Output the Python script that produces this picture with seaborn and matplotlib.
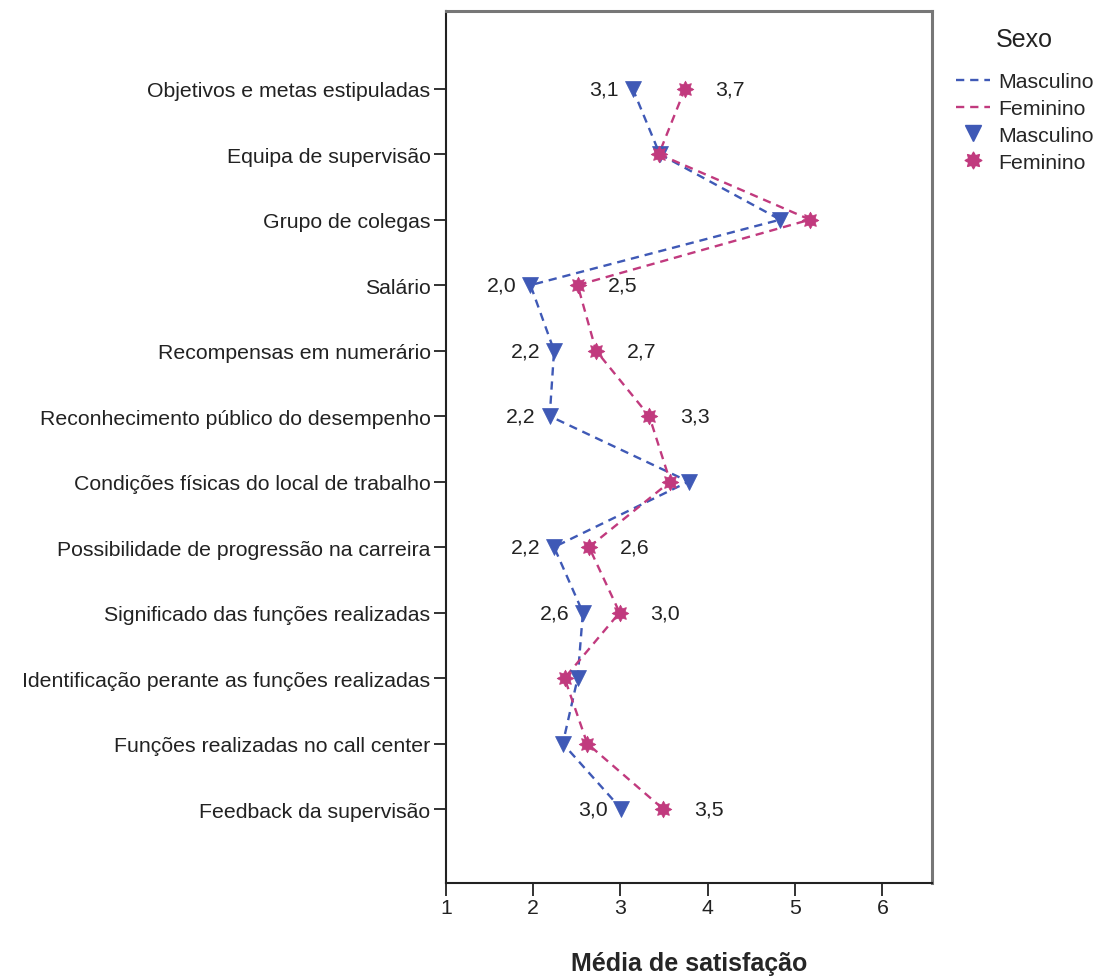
import pandas as pd
import numpy as np
import matplotlib
matplotlib.use("Agg")
import matplotlib.pyplot as plt
from matplotlib.lines import Line2D
from matplotlib.path import Path
import seaborn as sns

itens = [
    "Objetivos e metas estipuladas",
    "Equipa de supervisão",
    "Grupo de colegas",
    "Salário",
    "Recompensas em numerário",
    "Reconhecimento público do desempenho",
    "Condições físicas do local de trabalho",
    "Possibilidade de progressão na carreira",
    "Significado das funções realizadas",
    "Identificação perante as funções realizadas",
    "Funções realizadas no call center",
    "Feedback da supervisão",
]
masculino = [3.14, 3.45, 4.83, 1.97, 2.24, 2.19, 3.78, 2.24, 2.57, 2.51, 2.34, 3.01]
feminino = [3.74, 3.44, 5.17, 2.51, 2.72, 3.33, 3.57, 2.64, 2.99, 2.36, 2.62, 3.49]
# which rows carry a value label in the original
rotulados = [True, False, False, True, True, True, False, True, True, False, False, True]

azul = "#3f59b6"
rosa = "#c13a7e"

df = pd.DataFrame({
    "item": itens * 2,
    "pos": list(range(len(itens))) * 2,
    "media": masculino + feminino,
    "Sexo": ["Masculino"] * len(itens) + ["Feminino"] * len(itens),
})

sns.set_style("white")
plt.rcParams["font.family"] = ["Liberation Sans", "DejaVu Sans"]

# 8-point star marker with short spikes, like the SPSS one
ang = np.linspace(0, 2 * np.pi, 17)[:-1] + np.pi / 2
raio = np.where(np.arange(16) % 2 == 0, 1.0, 0.62)
verts = np.column_stack([raio * np.cos(ang), raio * np.sin(ang)])
verts = np.vstack([verts, verts[:1]])
star = Path(verts, [Path.MOVETO] + [Path.LINETO] * 15 + [Path.CLOSEPOLY])

fig = plt.figure(figsize=(10.98, 9.79), dpi=100)
ax = fig.add_axes([0.406, 0.097, 0.443, 0.891])

cores = {"Masculino": azul, "Feminino": rosa}
tracejado = (0, (3.5, 2.5))
sns.lineplot(data=df, x="media", y="pos", hue="Sexo", palette=cores, sort=False,
             estimator=None, orient="y", linestyle=tracejado, linewidth=1.7,
             legend=False, ax=ax)

for sexo, marc, ms in [("Masculino", "v", 11.5), ("Feminino", star, 12)]:
    sub = df[df["Sexo"] == sexo]
    ax.plot(sub["media"], sub["pos"], linestyle="none", marker=marc, markersize=ms,
            color=cores[sexo], markeredgewidth=0.5, zorder=3)

fs = 15.3
# value labels
for i in range(len(itens)):
    if not rotulados[i]:
        continue
    ax.annotate(f"{masculino[i]:.1f}".replace(".", ","), (masculino[i], i),
                xytext=(-10, 0), textcoords="offset points", ha="right", va="center",
                fontsize=fs, color="#222222")
    ax.annotate(f"{feminino[i]:.1f}".replace(".", ","), (feminino[i], i),
                xytext=(22, 0), textcoords="offset points", ha="left", va="center",
                fontsize=fs, color="#222222")

ax.set_xlim(1, 6.57)
ax.set_ylim(len(itens) - 1 + 1.13, -1.19)
ax.set_xticks([1, 2, 3, 4, 5, 6])
ax.set_yticks(range(len(itens)))
ax.set_yticklabels(itens)
ax.tick_params(axis="both", direction="out", length=9, width=1.3, color="#222222",
               labelsize=fs, labelcolor="#222222", pad=2, left=True, bottom=True)
ax.set_ylabel("")
ax.set_xlabel("Média de satisfação", fontsize=18, fontweight="bold", labelpad=24)

for lado in ["left", "bottom"]:
    ax.spines[lado].set_color("#222222")
    ax.spines[lado].set_linewidth(1.5)
for lado in ["top", "right"]:
    ax.spines[lado].set_color("#777777")
    ax.spines[lado].set_linewidth(2.2)

handles = [
    Line2D([], [], color=azul, linestyle=tracejado, linewidth=1.7),
    Line2D([], [], color=rosa, linestyle=tracejado, linewidth=1.7),
    Line2D([], [], color=azul, linestyle="none", marker="v", markersize=11.5),
    Line2D([], [], color=rosa, linestyle="none", marker=star, markersize=12),
]
fig.text(1024 / 1098, 1 - 40 / 979, "Sexo", ha="center", va="center",
         fontsize=18, color="#222222")
fig.legend(handles, ["Masculino", "Feminino", "Masculino", "Feminino"],
           loc="upper left", bbox_to_anchor=(0.8625, 0.934),
           frameon=False, fontsize=fs, handlelength=1.6,
           handletextpad=0.4, labelspacing=0.37, borderaxespad=0)

fig.savefig("out.png", dpi=100)
